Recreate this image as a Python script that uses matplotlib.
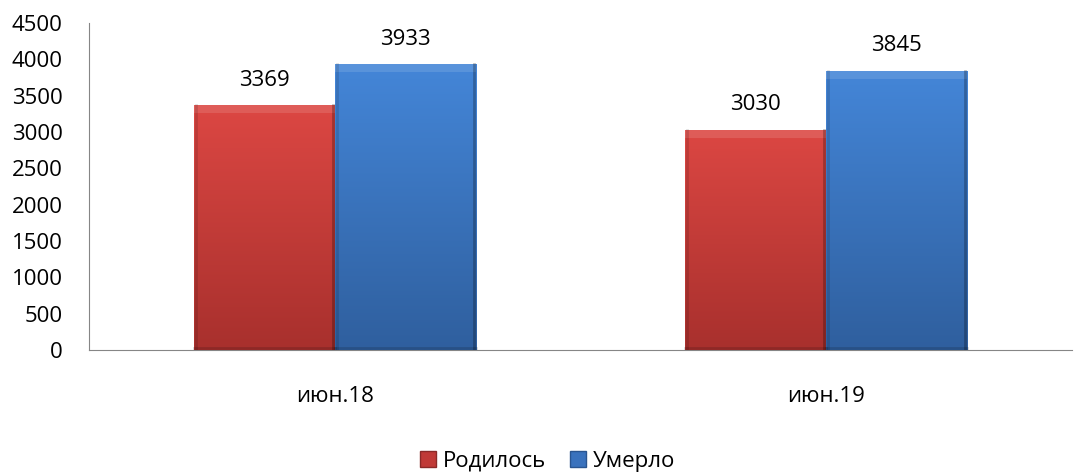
import numpy as np
import matplotlib.pyplot as plt
from matplotlib.patches import Patch
from matplotlib.colors import to_rgb

plt.rcParams['font.family'] = ['Open Sans', 'DejaVu Sans']

categories = ['июн.18', 'июн.19']
born = [3369, 3030]
died = [3933, 3845]
series_names = ['Родилось', 'Умерло']

# цвета градиента (верх, низ)
red_top, red_bot = '#dc4743', '#a8302d'
blue_top, blue_bot = '#4486d8', '#2f5f9e'

fig = plt.figure(figsize=(10.74, 4.72), dpi=100)
ax = fig.add_axes([0.083, 0.2585, 0.915, 0.6928])

x = np.arange(len(categories))
width = 0.287


def gradient_bars(xs, vals, c_top, c_bot):
    bars = ax.bar(xs, vals, width, color=c_bot, edgecolor='none', zorder=2)
    t = np.array(to_rgb(c_top))
    b = np.array(to_rgb(c_bot))
    for bar in bars:
        x0, w, h = bar.get_x(), bar.get_width(), bar.get_height()
        grad = np.linspace(0, 1, 256)[:, None, None]
        img = t[None, None, :] * (1 - grad) + b[None, None, :] * grad
        im = ax.imshow(img, extent=[x0, x0 + w, 0, h], aspect='auto',
                       zorder=3, interpolation='bilinear')
        im.set_clip_path(bar)
        # фаска по краям
        ax.fill_between([x0, x0 + w], h - 110, h, color='white', alpha=0.12,
                        lw=0, zorder=4)
        ax.plot([x0 + 0.004, x0 + 0.004], [0, h], color='black', alpha=0.12, lw=2, zorder=4)
        ax.plot([x0 + w - 0.004, x0 + w - 0.004], [0, h], color='black', alpha=0.25, lw=2, zorder=4)
        ax.plot([x0, x0 + w], [30, 30], color='black', alpha=0.15, lw=2, zorder=4)
        ax.text(x0 + w / 2, h + 345, str(int(h)), ha='center', va='center',
                fontsize=16, color='black')
    return bars


gradient_bars(x - width / 2, born, red_top, red_bot)
gradient_bars(x + width / 2, died, blue_top, blue_bot)

ax.set_xlim(-0.5, 1.5)
ax.set_ylim(0, 4500)
ax.set_yticks(np.arange(0, 4501, 500))
ax.set_xticks(x)
ax.set_xticklabels(categories)
ax.tick_params(axis='both', length=0, labelsize=16)
ax.tick_params(axis='x', pad=26)
ax.tick_params(axis='y', pad=19)
for s in ['top', 'right']:
    ax.spines[s].set_visible(False)
for s in ['left', 'bottom']:
    ax.spines[s].set_color('#868686')

handles = [Patch(facecolor='#c03a37', edgecolor='#8a2a28'),
           Patch(facecolor='#3a72bd', edgecolor='#2a5590')]
fig.legend(handles, series_names, loc='center', ncol=2, frameon=False,
           fontsize=16, bbox_to_anchor=(0.51, 11 / 472), handlelength=0.7,
           handleheight=0.7, handletextpad=0.3, columnspacing=1.1)

fig.savefig('out.png', dpi=100)
